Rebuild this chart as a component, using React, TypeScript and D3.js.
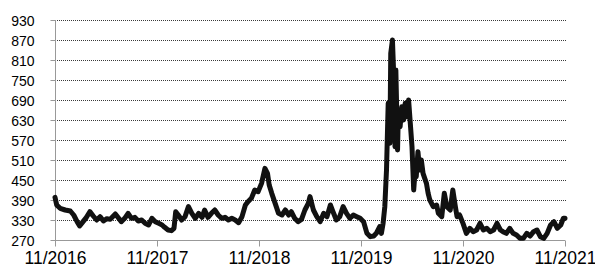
import { useEffect, useRef } from "react";
import * as d3 from "d3";

// months since 11/2016 (fractional) and the weekly index values
const months = [
  0.0, 0.2, 0.6, 1.2, 1.8, 2.2, 2.6, 2.9, 3.3, 3.7, 4.1, 4.5, 4.9, 5.3, 5.7, 6.1, 6.5, 7.1, 7.4, 7.8,
  8.2, 8.6, 9.0, 9.4, 9.8, 10.2, 10.6, 11.0, 11.4, 11.8,
  12.2, 12.6, 12.9, 13.3, 13.7, 14.0, 14.2, 14.5, 14.9, 15.3, 15.7, 16.1, 16.5, 16.9, 17.3, 17.6,
  18.0, 18.4, 18.8, 19.2, 19.6, 20.0, 20.4, 20.8, 21.2, 21.6, 22.0, 22.4, 22.7, 23.1, 23.5, 23.9,
  24.3, 24.7, 25.0, 25.2, 25.5, 25.9, 26.3, 26.7, 27.1, 27.5, 27.8, 28.2, 28.6, 29.0, 29.4, 29.8,
  30.0, 30.4, 30.8, 31.2, 31.6, 32.0, 32.4, 32.7, 33.1, 33.5, 33.9, 34.3, 34.7, 35.1, 35.5, 35.9,
  36.3, 36.7, 37.1, 37.5, 37.8, 38.2, 38.4, 38.6, 38.8, 39.0, 39.2, 39.4, 39.5, 39.7, 39.9, 40.0,
  40.1, 40.3, 40.4, 40.6, 40.8, 41.0, 41.2, 41.4, 41.6, 41.8, 42.0, 42.2, 42.4, 42.5, 42.7, 42.9,
  43.1, 43.3, 43.7, 43.9, 44.1, 44.5, 44.9, 45.1, 45.5, 45.8, 46.1, 46.5, 46.8, 47.1, 47.3, 47.6,
  48.0, 48.4, 48.8, 49.2, 49.6, 50.0, 50.4, 50.8, 51.2, 51.6, 52.0, 52.4, 52.7, 53.1, 53.5, 53.9,
  54.3, 54.7, 55.1, 55.5, 55.9, 56.3, 56.7, 57.1, 57.5, 57.9, 58.3, 58.7, 59.1, 59.5, 59.8, 60.0,
];

const values = [
  398, 375, 365, 360, 357, 345, 325, 312, 325, 338, 355, 342, 330, 340, 327, 334, 332, 348, 338, 325,
  335, 350, 335, 338, 327, 330, 320, 315, 335, 325,
  320, 315, 308, 300, 298, 305, 355, 345, 330, 340, 370, 350, 335, 350, 338, 360,
  338, 350, 360, 345, 335, 338, 330, 335, 330, 322, 340, 375, 385, 395, 420, 415,
  440, 485, 470, 435, 410, 380, 350, 345, 360, 345, 355, 335, 325, 332, 360, 380,
  400, 360, 340, 325, 350, 340, 375, 355, 330, 340, 370, 350, 335, 345, 340, 335,
  325, 290, 280, 282, 290, 310, 290, 320, 370, 480, 680, 560, 830, 870, 730, 550,
  780, 540, 660, 610, 670, 630, 680, 640, 690, 620, 550, 420, 490, 460, 535, 480,
  510, 470, 440, 410, 390, 370, 375, 350, 340, 410, 370, 360, 420, 370, 340, 345,
  320, 290, 305, 295, 300, 320, 300, 305, 295, 300, 320, 300, 295, 290, 305, 290,
  285, 275, 275, 290, 282, 295, 300, 280, 275, 290, 315, 325, 305, 315, 335, 335,
];

const yTicks = [270, 330, 390, 450, 510, 570, 630, 690, 750, 810, 870, 930];
const xTicks = [0, 12, 24, 36, 48, 60];
const xTickLabels = ["11/2016", "11/2017", "11/2018", "11/2019", "11/2020", "11/2021"];

export default function App() {
  const svgRef = useRef<SVGSVGElement>(null);

  useEffect(() => {
    if (!svgRef.current) return;
    const svg = d3.select(svgRef.current);
    svg.selectAll("*").remove();

    const margin = { top: 20, right: 30, bottom: 27, left: 55 };
    const width = 595 - margin.left - margin.right;
    const height = 267 - margin.top - margin.bottom;

    const g = svg.append("g").attr("transform", `translate(${margin.left},${margin.top})`);

    const x = d3.scaleLinear().domain([0, 60]).range([0, width]);
    const y = d3.scaleLinear().domain([270, 930]).range([height, 0]);

    // Dotted grid lines
    g.append("g")
      .selectAll("line")
      .data(yTicks.slice(1))
      .enter()
      .append("line")
      .attr("x1", 0)
      .attr("x2", width + 1)
      .attr("y1", d => y(d) + 0.5)
      .attr("y2", d => y(d) + 0.5)
      .attr("stroke", "#3a3a3a")
      .attr("stroke-width", 1)
      .attr("stroke-dasharray", "1,1");

    // Y axis
    g.append("g")
      .attr("transform", "translate(0.5,0)")
      .call(d3.axisLeft(y).tickValues(yTicks).tickSize(5).tickPadding(16).tickFormat(d => String(d)))
      .call(a => a.select(".domain").attr("stroke", "#999").attr("d", `M0,0V${height}`))
      .call(a => a.selectAll(".tick line").attr("stroke", "#999"))
      .call(a => a.selectAll(".tick text")
        .attr("fill", "#000")
        .attr("font-size", "14px")
        .attr("font-family", "Liberation Sans, Arial, sans-serif")
        .attr("dy", "0.38em"));

    // X axis
    g.append("g")
      .attr("transform", `translate(0,${height + 0.5})`)
      .call(d3.axisBottom(x).tickValues(xTicks).tickSize(6).tickPadding(5)
        .tickFormat((_, i) => xTickLabels[i]))
      .call(a => a.select(".domain").attr("stroke", "#999").attr("d", `M0,0H${width}`))
      .call(a => a.selectAll(".tick line").attr("stroke", "#999"))
      .call(a => a.selectAll(".tick text")
        .attr("fill", "#000")
        .attr("font-size", "17.5px")
        .attr("font-family", "Liberation Sans, Arial, sans-serif"));

    // Index line
    const data = months.map((m, i) => ({ m, v: values[i] }));
    const line = d3.line<{ m: number; v: number }>()
      .x(d => x(d.m))
      .y(d => y(d.v));

    g.append("path")
      .datum(data)
      .attr("fill", "none")
      .attr("stroke", "#111")
      .attr("stroke-width", 5)
      .attr("stroke-linejoin", "round")
      .attr("stroke-linecap", "round")
      .attr("d", line);
  }, []);

  return (
    <div style={{ position: "fixed", left: 0, top: 0, background: "#fff" }}>
      <svg ref={svgRef} width={595} height={267} style={{ display: "block" }} />
    </div>
  );
}
